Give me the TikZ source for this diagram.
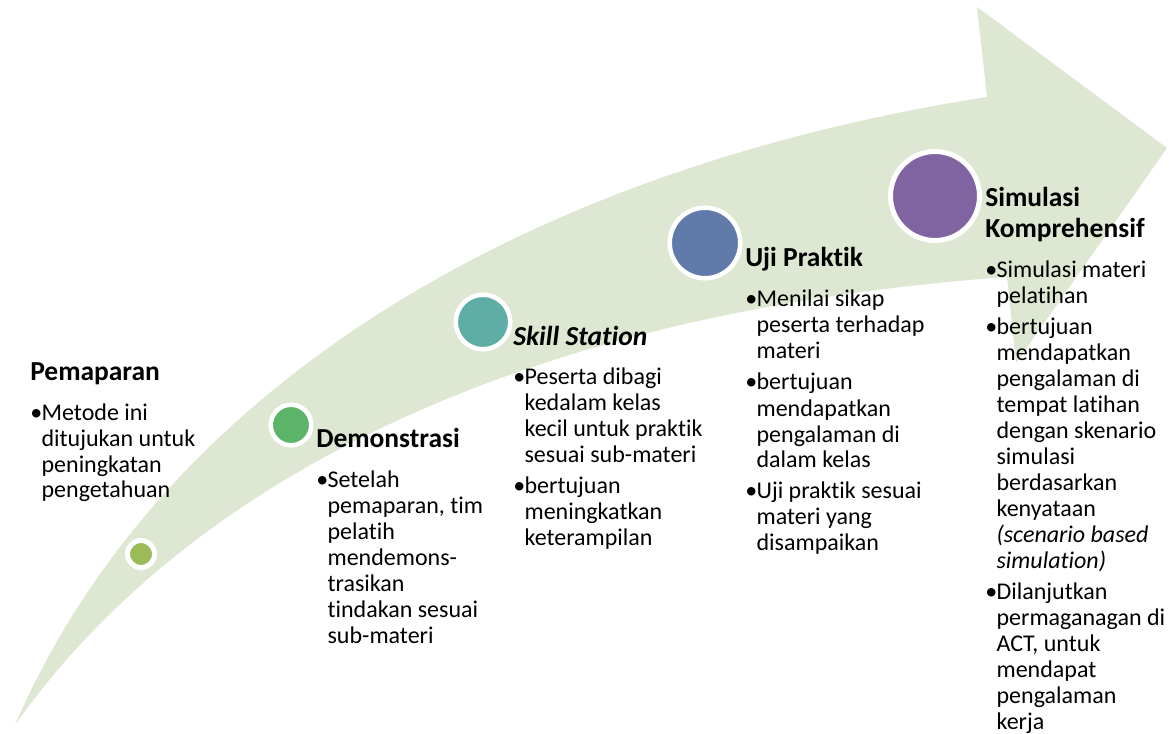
\documentclass[tikz,border=0pt]{standalone}
\usepackage{fontspec}
\setmainfont{Carlito}[Ligatures=NoCommon]
\usetikzlibrary{positioning}

\definecolor{arrowfill}{RGB}{222,231,209}
\definecolor{dotolive}{RGB}{155,187,89}
\definecolor{dotgreen}{RGB}{92,180,104}
\definecolor{dotteal}{RGB}{94,174,166}
\definecolor{dotblue}{RGB}{96,122,170}
\definecolor{dotpurple}{RGB}{128,100,162}

% bullet list set as a two-column table, first baseline on top
\newcommand{\steplist}[1]{\begin{tabular}[t]{@{}p{8.5pt}@{}l@{}}#1\end{tabular}}
\newcommand{\gap}{\\[3.75pt]}

\begin{document}
\begin{tikzpicture}[x=0.75pt,y=-0.75pt,
  dot/.style={circle,draw=white,line width=3.4pt,inner sep=0pt},
  steptitle/.style={anchor=base west,inner sep=0pt,font=\fontsize{20.6}{23.25}\selectfont\bfseries},
  steptext/.style={inner sep=0pt,font=\fontsize{18}{19.5}\selectfont}]
  \useasboundingbox[fill=white] (0,0) rectangle (1171,734);

  % the rising arrow
  \fill[arrowfill] (15,725) .. controls (160,390) and (520,170) .. (987,97)
    -- (977,7) -- (1167,148) -- (1016,363) -- (1007,277)
    .. controls (480,315) and (170,505) .. (15,725) -- cycle;

  % milestones
  \node[dot,fill=dotolive,minimum size=20.25pt,line width=3.75pt] (d1) at (141,554) {};
  \node[dot,fill=dotgreen,minimum size=30.4pt] (d2) at (291,425) {};
  \node[dot,fill=dotteal,minimum size=40.9pt] (d3) at (483,322) {};
  \node[dot,fill=dotblue,minimum size=52.9pt] (d4) at (705,243) {};
  \node[dot,fill=dotpurple,minimum size=66.75pt,line width=3.75pt] (d5) at (935,196) {};

  % step 1
  \node[steptitle] (pemaparan) at (30,380) {Pemaparan};
  \node[steptext] (pemaparanText) [below=30pt of pemaparan.base west,anchor=base west] {\steplist{
    \textbullet & Metode ini\\
    & ditujukan untuk\\
    & peningkatan\\
    & pengetahuan}};

  % step 2
  \node[steptitle] (demonstrasi) at (316,447) {Demonstrasi};
  \node[steptext] (demonstrasiText) [below=30pt of demonstrasi.base west,anchor=base west] {\steplist{
    \textbullet & Setelah\\
    & pemaparan, tim\\
    & pelatih\\
    & mendemons-\\
    & trasikan\\
    & tindakan sesuai\\
    & sub-materi}};

  % step 3
  \node[steptitle] (skill) at (513,345) {\itshape Skill Station};
  \node[steptext] (skillText) [below=29.25pt of skill.base west,anchor=base west] {\steplist{
    \textbullet & Peserta dibagi\\
    & kedalam kelas\\
    & kecil untuk praktik\\
    & sesuai sub-materi\gap
    \textbullet & bertujuan\\
    & meningkatkan\\
    & keterampilan}};

  % step 4
  \node[steptitle] (uji) at (745,267) {Uji Praktik};
  \node[steptext] (ujiText) [below=30pt of uji.base west,anchor=base west] {\steplist{
    \textbullet & Menilai sikap\\
    & peserta terhadap\\
    & materi\gap
    \textbullet & bertujuan\\
    & mendapatkan\\
    & pengalaman di\\
    & dalam kelas\gap
    \textbullet & Uji praktik sesuai\\
    & materi yang\\
    & disampaikan}};

  % step 5
  \node[steptitle] (simulasi) at (985,207) {\begin{tabular}[t]{@{}l@{}}Simulasi\\Komprehensif\end{tabular}};
  \node[steptext] (simulasiText) [below=53.25pt of simulasi.base west,anchor=base west] {\steplist{
    \textbullet & Simulasi materi\\
    & pelatihan\gap
    \textbullet & bertujuan\\
    & mendapatkan\\
    & pengalaman di\\
    & tempat latihan\\
    & dengan skenario\\
    & simulasi\\
    & berdasarkan\\
    & kenyataan\\
    & \textit{(scenario based}\\
    & \textit{simulation)}\gap
    \textbullet & Dilanjutkan\\
    & permaganagan di\\
    & ACT, untuk\\
    & mendapat\\
    & pengalaman\\
    & kerja}};
\end{tikzpicture}
\end{document}
